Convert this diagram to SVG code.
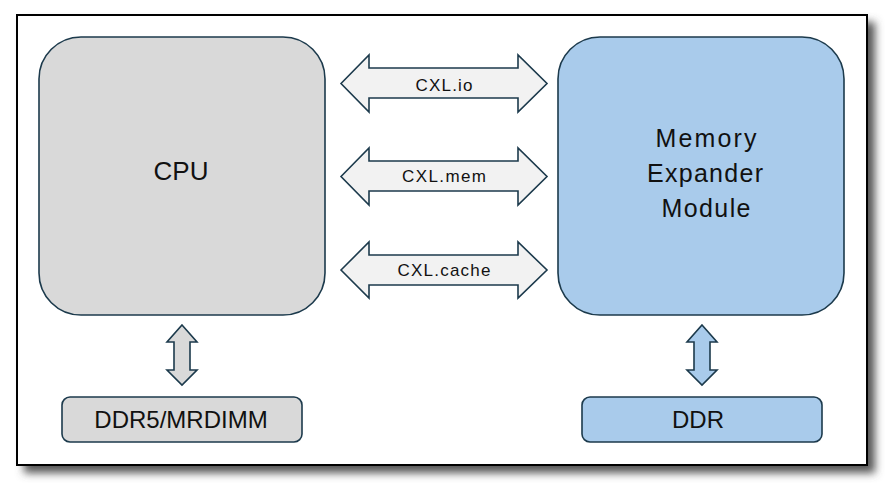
<svg xmlns="http://www.w3.org/2000/svg" width="895" height="491" viewBox="0 0 895 491">
<defs>
<filter id="sh" x="-5%" y="-5%" width="115%" height="120%">
<feGaussianBlur stdDeviation="4"/>
</filter>
<style>
.node{stroke:#1c3a4c;stroke-width:1.6}
.cpu{fill:#d9d9d9}
.mem{fill:#a9cbeb}
.arr{fill:#f2f2f2;stroke:#1c3a4c;stroke-width:1.6;stroke-linejoin:miter}
.t{font-family:"Liberation Sans",Arial,sans-serif;fill:#111;text-anchor:middle}
.lab{font-size:17px}
</style>
</defs>
<rect x="0" y="0" width="895" height="491" fill="#fff"/>
<rect x="24" y="22" width="851" height="451" fill="#555" filter="url(#sh)"/>
<rect x="17" y="15" width="850" height="450" fill="#fff" stroke="#000" stroke-width="2"/>

<g id="connectors">
<path class="arr" d="M341,83.5 L369,55 L369,68 L518,68 L518,55 L547,83.5 L518,112 L518,98 L369,98 L369,112 Z"/>
<path class="arr" d="M341,176.5 L369,148 L369,161 L518,161 L518,148 L547,176.5 L518,205 L518,191 L369,191 L369,205 Z"/>
<path class="arr" d="M341,270 L369,242 L369,255 L518,255 L518,242 L547,270 L518,298 L518,285 L369,285 L369,298 Z"/>
<path class="node cpu" d="M182,325 L197,342 L190,342 L190,370 L197,370 L182,385 L167,370 L174,370 L174,342 L167,342 Z"/>
<path class="node mem" d="M702,325 L717,342 L710,342 L710,370 L717,370 L702,385 L687,370 L694,370 L694,342 L687,342 Z"/>
<text class="t lab" x="444" y="91" textLength="57" lengthAdjust="spacing">CXL.io</text>
<text class="t lab" x="444" y="182" textLength="84" lengthAdjust="spacing">CXL.mem</text>
<text class="t lab" x="444" y="276" textLength="93" lengthAdjust="spacing">CXL.cache</text>
</g>

<g id="cpu">
<rect class="node cpu" x="39" y="37" width="286" height="278" rx="42"/>
<text class="t" x="181" y="180" font-size="26">CPU</text>
</g>

<g id="memory-expander">
<rect class="node mem" x="558" y="37" width="286" height="278" rx="42"/>
<text class="t" x="706" y="147" font-size="25" textLength="101" lengthAdjust="spacing">Memory</text>
<text class="t" x="705" y="182" font-size="25" textLength="116" lengthAdjust="spacing">Expander</text>
<text class="t" x="706" y="217" font-size="25" textLength="89" lengthAdjust="spacing">Module</text>
</g>

<g id="ddr5">
<rect class="node cpu" x="62" y="397" width="240" height="45" rx="8"/>
<text class="t" x="181" y="428" font-size="24">DDR5/MRDIMM</text>
</g>

<g id="ddr">
<rect class="node mem" x="582" y="397" width="240" height="45" rx="8"/>
<text class="t" x="698" y="428" font-size="24">DDR</text>
</g>
</svg>
